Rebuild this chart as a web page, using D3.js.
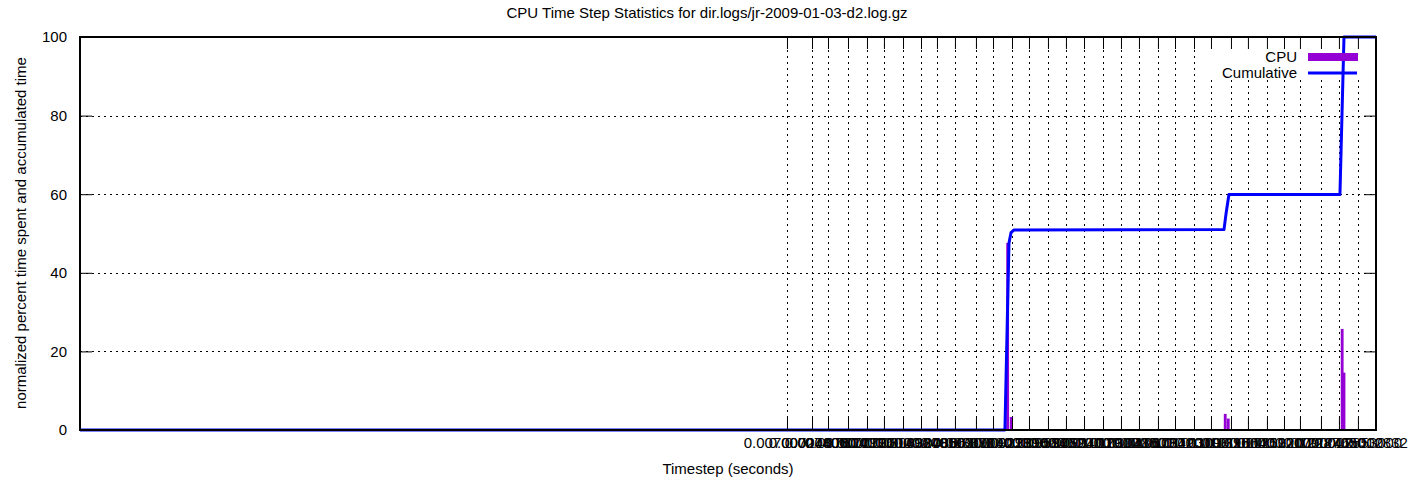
<!DOCTYPE html>
<html><head><meta charset="utf-8">
<script src="https://cdn.jsdelivr.net/npm/d3@7"></script>
<style>body{margin:0;background:#fff} text{font-family:"Liberation Sans",Arial,sans-serif;font-size:15px;fill:#000}</style>
</head><body><svg id="c" width="1414" height="487"></svg>
<script>
const titleText = "CPU Time Step Statistics for dir.logs/jr-2009-01-03-d2.log.gz";
const xTitle = "Timestep (seconds)";
const yTitle = "normalized percent time spent and accumulated time";

const tickValues = [0.007000,0.007248,0.007406,0.007604,0.007792,0.007960,0.008149,0.008327,0.008485,0.008663,
  0.008871,0.009040,0.009228,0.009396,0.009584,0.009762,0.009941,0.010129,0.010307,0.010485,
  0.010673,0.010842,0.011030,0.011198,0.011396,0.011564,0.011752,0.011921,0.012079,0.012287,
  0.012465,0.012653,0.012832];
const tickLabels = ["0.007000000","0.007248000","0.007406000","0.007604000","0.007792000","0.007960000","0.008149000","0.008327000","0.008485000","0.008663000",
  "0.008871000","0.009040000","0.009228000","0.009396000","0.009584000","0.009762000","0.009941000","0.010129000","0.010307000","0.010485000",
  "0.010673000","0.010842000","0.011030000","0.011198000","0.011396000","0.011564000","0.011752000","0.011921000","0.012079000","0.012287000",
  "0.012465000","0.012653000","0.012832"];
const xMax = 0.012832;

const cpuTimes = [0.009185,0.009220,0.011339,0.011369,0.012497,0.012515];
const cpuPercent = [47.6,3.3,4.1,2.9,25.7,14.6];
const cpuBarWidth = 0.000028;

const cumTimes = [0,0.009158,0.009198,0.009218,0.009248,0.011327,0.011347,0.011376,0.012475,0.012515,0.012832];
const cumPercent = [0,0,47.6,50.2,50.9,51.0,55.0,59.9,59.9,100,100];

const yTicks = [0,20,40,60,80,100];
const legendLabels = ["CPU","Cumulative"];
const colors = {cpu:"#9400d3", cum:"#0000ff"};

const L=80,R=1376,T=37,B=430;
const svg = d3.select("#c");
const x = d3.scaleLinear().domain([0,xMax]).range([L,R]);
const y = d3.scaleLinear().domain([0,100]).range([B,T]);

// grid
const grid = svg.append("g").attr("stroke","#000").attr("stroke-width",1).attr("stroke-dasharray","2,4").attr("fill","none");
yTicks.filter(v=>v>0&&v<100).forEach(v=>{
  grid.append("line").attr("x1",L).attr("x2",R).attr("y1",Math.round(y(v))+0.5).attr("y2",Math.round(y(v))+0.5);
});
tickValues.forEach(v=>{
  grid.append("line").attr("x1",Math.round(x(v))+0.5).attr("x2",Math.round(x(v))+0.5).attr("y1",B).attr("y2",T);
});

// key background
svg.append("rect").attr("x",1205).attr("y",T+1).attr("width",160).attr("height",40).attr("fill","#fff");

// CPU bars
svg.append("g").selectAll("rect").data(cpuTimes).join("rect")
  .attr("x",(d)=>x(d-cpuBarWidth/2))
  .attr("width",(d)=>x(d+cpuBarWidth/2)-x(d-cpuBarWidth/2))
  .attr("y",(d,i)=>y(cpuPercent[i]))
  .attr("height",(d,i)=>y(0)-y(cpuPercent[i]))
  .attr("fill",colors.cpu);

// cumulative line
const line = d3.line().x((d)=>x(d)).y((d,i)=>y(cumPercent[i]));
svg.append("path").attr("d",line(cumTimes)).attr("fill","none").attr("stroke",colors.cum).attr("stroke-width",3).attr("stroke-linejoin","round");

// x axes (bottom + mirrored top)
const xb = d3.axisBottom(x).tickValues(tickValues).tickFormat((d,i)=>tickLabels[i]).tickSizeInner(-12).tickSizeOuter(0);
const gxb = svg.append("g").attr("transform",`translate(0,${B})`).call(xb);
gxb.select(".domain").remove();
gxb.selectAll("text").attr("font-size",14).attr("font-family","Liberation Sans").attr("dy","0.3em").attr("y",13);
const xt = d3.axisTop(x).tickValues(tickValues).tickFormat("").tickSizeInner(-12).tickSizeOuter(0);
const gxt = svg.append("g").attr("transform",`translate(0,${T})`).call(xt);
gxt.select(".domain").remove();

// y axes
const yl = d3.axisLeft(y).tickValues(yTicks).tickFormat(d3.format("d")).tickSizeInner(-12).tickSizeOuter(0);
const gyl = svg.append("g").attr("transform",`translate(${L},0)`).call(yl);
gyl.select(".domain").remove();
gyl.selectAll("text").attr("font-size",14).attr("font-family","Liberation Sans").attr("x",-13);
const yr = d3.axisRight(y).tickValues(yTicks).tickFormat("").tickSizeInner(-12).tickSizeOuter(0);
const gyr = svg.append("g").attr("transform",`translate(${R},0)`).call(yr);
gyr.select(".domain").remove();
svg.selectAll(".tick line").attr("stroke","#000").attr("stroke-width",1);

// border
svg.append("rect").attr("x",L).attr("y",T).attr("width",R-L).attr("height",B-T).attr("fill","none").attr("stroke","#000").attr("stroke-width",2);

// legend
const lg = svg.append("g");
legendLabels.forEach((t,i)=>{
  const yy = 57 + i*16;
  lg.append("text").attr("x",1297).attr("y",yy).attr("dy","0.35em").attr("text-anchor","end").text(t);
  if(i===0){
    lg.append("rect").attr("x",1308).attr("y",yy-4).attr("width",50).attr("height",8).attr("fill",colors.cpu);
  } else {
    lg.append("line").attr("x1",1308).attr("x2",1357).attr("y1",yy).attr("y2",yy).attr("stroke",colors.cum).attr("stroke-width",3);
  }
});

// titles
svg.append("text").attr("x",707).attr("y",18).attr("text-anchor","middle").text(titleText);
svg.append("text").attr("x",728).attr("y",474).attr("text-anchor","middle").text(xTitle);
svg.append("text").attr("transform","translate(26,233) rotate(-90)").attr("text-anchor","middle").text(yTitle);
</script></body></html>
